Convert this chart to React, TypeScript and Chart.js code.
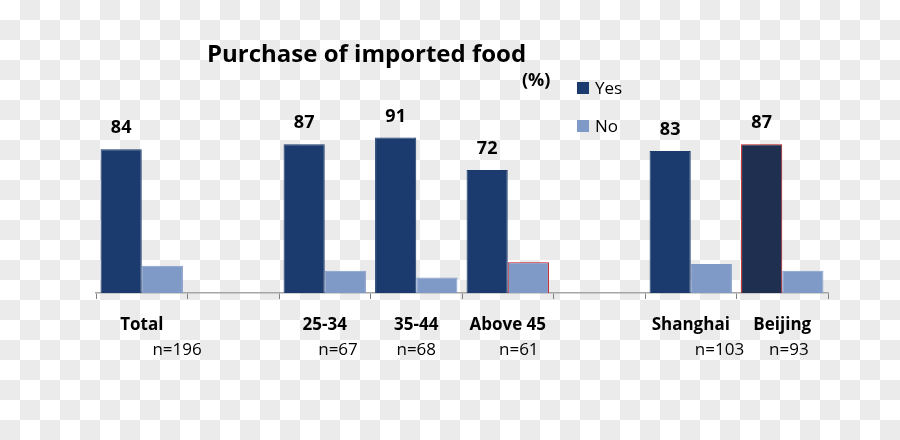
import React, { useEffect, useRef } from "react";
import { Chart, registerables } from "chart.js";

Chart.register(...registerables);

const categories = ["Total", "", "25-34", "35-44", "Above 45", "", "Shanghai", "Beijing"];
const sampleLabels = [
  "                n=196",
  "",
  "      n=67",
  "n=68",
  "     n=61",
  "",
  "             n=103",
  "   n=93",
];
const yesValues = [84, null, 87, 91, 72, null, 83, 87];
const noValues = [16, null, 13, 9, 18, null, 17, 13];

const FONT = "'Open Sans', sans-serif";
const YES = "#1b3a6d";
const YES_DARK = "#1f2f50";
const NO = "#809ac8";
const RED = "#c0141c";

const yesFill = categories.map((c) => (c === "Beijing" ? YES_DARK : YES));
const yesBorder = categories.map((c) => (c === "Beijing" ? RED : YES));
const noBorder = categories.map((c) => (c === "Above 45" ? RED : NO));

const valueLabels = {
  id: "valueLabels",
  afterDatasetsDraw(chart: any) {
    const ctx = chart.ctx;
    const meta = chart.getDatasetMeta(0);
    ctx.save();
    ctx.font = `bold 18px ${FONT}`;
    ctx.fillStyle = "#000";
    ctx.textAlign = "center";
    ctx.textBaseline = "middle";
    meta.data.forEach((bar: any, i: number) => {
      const v = yesValues[i];
      if (v === null || v === undefined) return;
      ctx.fillText(String(v), bar.x, bar.y - 21);
    });
    ctx.restore();
  },
};

export default function App() {
  const ref = useRef<HTMLCanvasElement | null>(null);
  useEffect(() => {
    if (!ref.current) return;
    const chart = new Chart(ref.current, {
      type: "bar",
      data: {
        labels: categories,
        datasets: [
          {
            label: "Yes",
            data: yesValues,
            backgroundColor: yesFill,
            borderColor: yesBorder,
            borderWidth: 1,
            categoryPercentage: 0.9,
            barPercentage: 1.0,
          },
          {
            label: "No",
            data: noValues,
            backgroundColor: NO,
            borderColor: noBorder,
            borderWidth: 1,
            categoryPercentage: 0.9,
            barPercentage: 1.0,
          },
        ],
      },
      options: {
        responsive: false,
        animation: false,
        layout: { padding: { top: 122, left: 96, right: 72, bottom: 73 } },
        plugins: { legend: { display: false }, title: { display: false }, tooltip: { enabled: false } },
        scales: {
          x: {
            type: "category",
            position: "bottom",
            offset: true,
            grid: { display: true, drawOnChartArea: false, drawTicks: true, tickLength: 6, color: "#7f7f7f", offset: true },
            border: { display: true, color: "#a6a6a6", width: 1.5 },
            ticks: { font: { family: FONT, size: 17, weight: "bold" }, color: "#000", padding: 16, maxRotation: 0, autoSkip: false },
            afterFit: (s: any) => { s.height = 44; },
          },
          x2: {
            type: "category",
            labels: sampleLabels,
            position: "bottom",
            offset: true,
            grid: { display: false },
            border: { display: false },
            ticks: { font: { family: FONT, size: 17 }, color: "#000", padding: -5, maxRotation: 0, autoSkip: false },
            afterFit: (s: any) => { s.height = 30; },
          },
          y: { display: false, min: 0, max: 100 },
        },
      } as any,
      plugins: [valueLabels],
    });
    return () => chart.destroy();
  }, []);

  const text: React.CSSProperties = { position: "absolute", fontFamily: FONT, color: "#000", lineHeight: 1, whiteSpace: "nowrap" };
  return (
    <div
      style={{
        position: "fixed",
        left: 0,
        top: 0,
        width: 900,
        height: 440,
        background: "repeating-conic-gradient(#ebebeb 0 25%, #ffffff 0 50%) 0 0 / 40px 40px",
      }}
    >
      <canvas ref={ref} width={900} height={440} style={{ position: "absolute", left: 0, top: 0 }} />
      <div style={{ ...text, left: 207, top: 41, fontSize: 24, fontWeight: "bold" }}>Purchase of imported food</div>
      <div style={{ ...text, left: 522, top: 70, fontSize: 18, fontWeight: "bold" }}>(%)</div>
      <div style={{ position: "absolute", left: 577, top: 82, width: 12, height: 12, background: YES }} />
      <div style={{ ...text, left: 595, top: 79, fontSize: 17 }}>Yes</div>
      <div style={{ position: "absolute", left: 577, top: 120, width: 12, height: 12, background: NO }} />
      <div style={{ ...text, left: 595, top: 117, fontSize: 17 }}>No</div>
    </div>
  );
}
